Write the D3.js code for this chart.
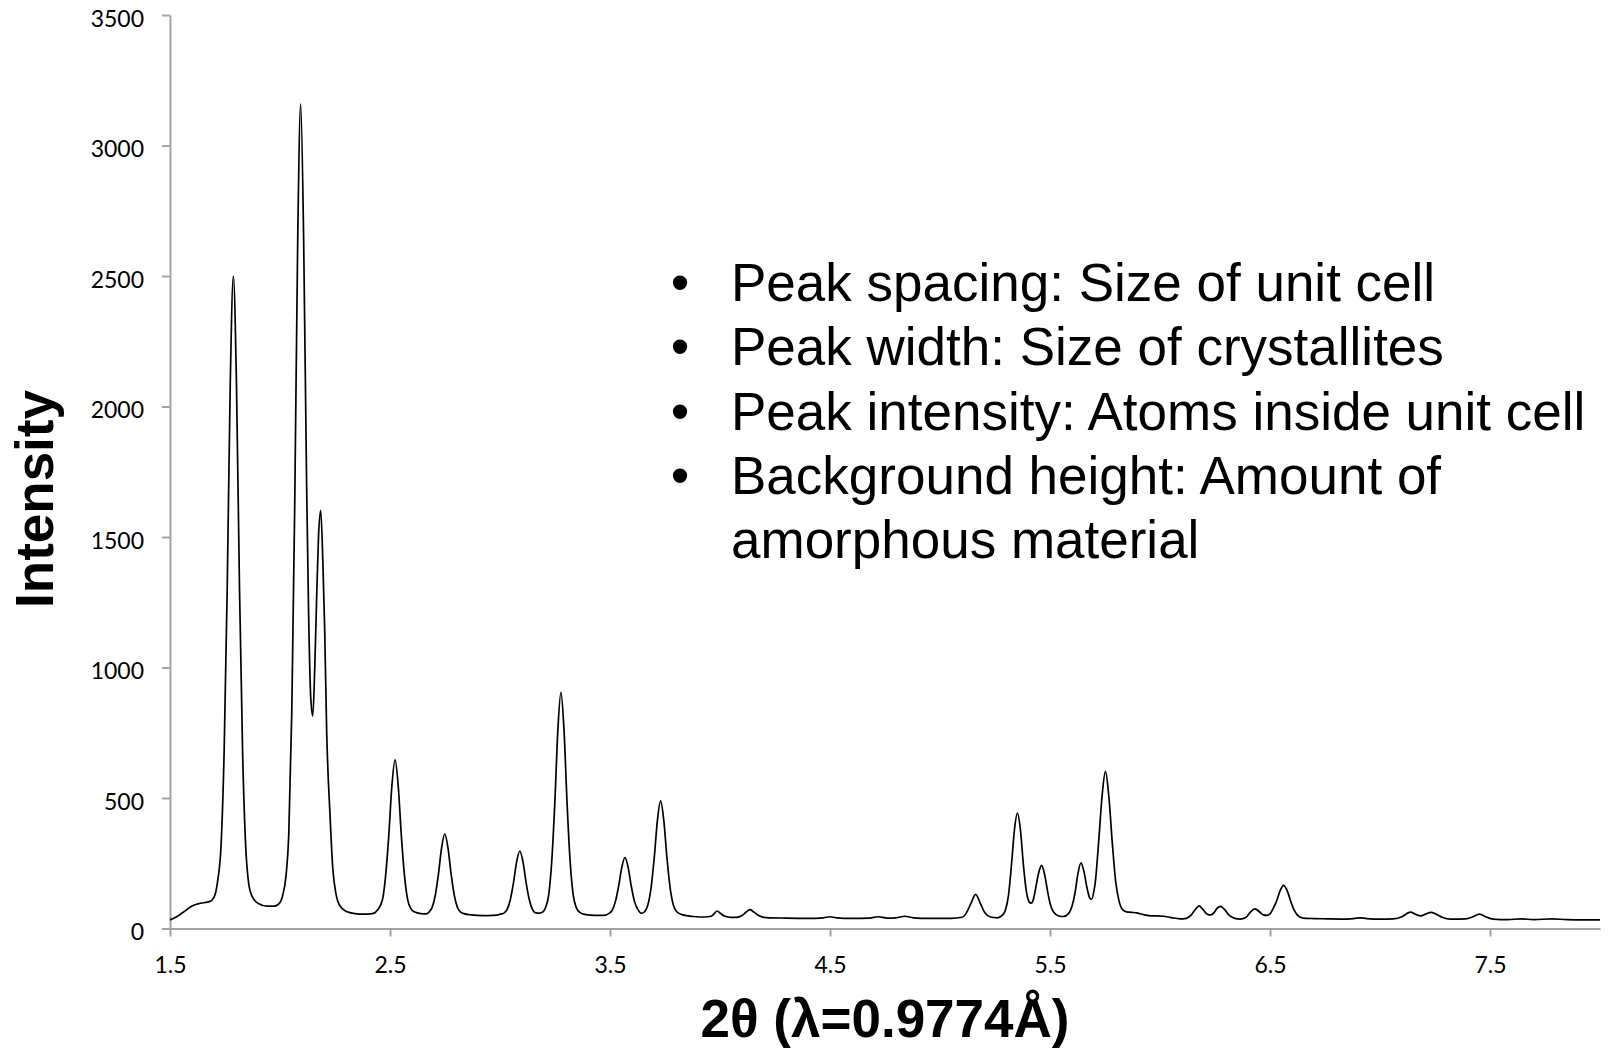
<!DOCTYPE html>
<html>
<head>
<meta charset="utf-8">
<script src="https://cdn.jsdelivr.net/npm/d3@7"></script>
<style>
  body { margin: 0; background: #fff; }
  svg { display: block; }
</style>
</head>
<body>
<div id="chart"></div>
<script>
// Chart size and plot box
const width = 1610;
const height = 1049;
const plotLeft = 170, plotRight = 1600, plotTop = 15, plotBottom = 928.5;

// Tick values
const xTicks = [1.5, 2.5, 3.5, 4.5, 5.5, 6.5, 7.5];
const yTicks = [0, 500, 1000, 1500, 2000, 2500, 3000, 3500];

// Diffraction pattern: [2theta, intensity]
const pattern = [
  [1.500, 33], [1.530, 45], [1.560, 62], [1.600, 86], [1.640, 97], [1.670, 101],
  [1.690, 108], [1.705, 130], [1.718, 190], [1.732, 316], [1.746, 676], [1.760, 1300],
  [1.774, 2092], [1.788, 2500], [1.802, 2092], [1.816, 1300], [1.830, 676], [1.844, 316],
  [1.858, 170], [1.872, 125], [1.900, 97], [1.940, 86], [1.975, 86], [2.000, 100],
  [2.013, 130], [2.027, 200], [2.040, 366], [2.0535, 827], [2.067, 1625], [2.0805, 2638],
  [2.094, 3160], [2.1075, 2638], [2.121, 1700], [2.130, 1207], [2.140, 880], [2.149, 814],
  [2.158, 1000], [2.166, 1250], [2.175, 1500], [2.185, 1602], [2.195, 1400], [2.203, 1150],
  [2.212, 760], [2.227, 441], [2.240, 230], [2.255, 130], [2.270, 90], [2.300, 66],
  [2.340, 57], [2.380, 55], [2.420, 57], [2.436, 64], [2.465, 108], [2.4795, 197],
  [2.494, 350], [2.5085, 546], [2.523, 646], [2.5375, 545], [2.552, 350], [2.5665, 197],
  [2.581, 108], [2.595, 76], [2.610, 64], [2.640, 57], [2.665, 56], [2.677, 63],
  [2.691, 80], [2.7055, 126], [2.720, 207], [2.7345, 309], [2.749, 362], [2.7635, 309],
  [2.778, 207], [2.7925, 126], [2.807, 80], [2.821, 63], [2.836, 57], [2.870, 52],
  [2.920, 49], [2.970, 50], [3.003, 55], [3.018, 59], [3.032, 72], [3.0465, 109],
  [3.061, 174], [3.0755, 255], [3.090, 297], [3.1045, 255], [3.119, 174], [3.1335, 109],
  [3.148, 72], [3.162, 60], [3.180, 59], [3.195, 64], [3.207, 80], [3.221, 127],
  [3.235, 255], [3.249, 478], [3.263, 760], [3.277, 905], [3.291, 760], [3.305, 478],
  [3.319, 255], [3.333, 127], [3.347, 80], [3.361, 63], [3.390, 53], [3.430, 50],
  [3.470, 50], [3.496, 58], [3.510, 70], [3.5245, 103], [3.539, 161], [3.5535, 234],
  [3.568, 272], [3.5825, 234], [3.597, 161], [3.6115, 103], [3.626, 74], [3.643, 58],
  [3.658, 65], [3.672, 90], [3.6865, 155], [3.701, 270], [3.7155, 414], [3.730, 489],
  [3.7445, 414], [3.759, 270], [3.7735, 155], [3.788, 90], [3.802, 65], [3.830, 52],
  [3.880, 46], [3.930, 44], [3.960, 47], [3.972, 55], [3.987, 67], [4.002, 58],
  [4.020, 48], [4.050, 43], [4.076, 43], [4.100, 50], [4.120, 64], [4.136, 72],
  [4.152, 64], [4.175, 50], [4.210, 42], [4.300, 40], [4.400, 39], [4.470, 41],
  [4.500, 45], [4.530, 41], [4.600, 39], [4.680, 40], [4.720, 45], [4.760, 40],
  [4.800, 41], [4.840, 47], [4.880, 41], [4.950, 39], [5.050, 39], [5.100, 43],
  [5.120, 60], [5.140, 95], [5.162, 131], [5.184, 95], [5.204, 60], [5.230, 44],
  [5.260, 41], [5.285, 52], [5.297, 70], [5.311, 125], [5.3245, 240], [5.338, 375],
  [5.352, 442], [5.366, 375], [5.3795, 240], [5.393, 140], [5.405, 102], [5.414, 97],
  [5.424, 110], [5.434, 150], [5.448, 212], [5.462, 242], [5.476, 205], [5.4895, 140],
  [5.503, 88], [5.517, 62], [5.540, 48], [5.561, 46], [5.585, 58], [5.600, 85],
  [5.6135, 135], [5.627, 210], [5.641, 252], [5.655, 215], [5.6685, 155], [5.680, 118],
  [5.689, 112], [5.700, 145], [5.7055, 175], [5.721, 330], [5.7365, 505], [5.752, 602],
  [5.7675, 505], [5.783, 330], [5.7985, 180], [5.814, 105], [5.830, 72], [5.848, 64],
  [5.870, 62], [5.895, 60], [5.930, 52], [5.960, 48], [5.990, 48], [6.015, 47],
  [6.050, 42], [6.090, 37], [6.120, 39], [6.140, 50], [6.160, 72], [6.178, 87],
  [6.196, 72], [6.215, 55], [6.230, 52], [6.245, 60], [6.260, 78], [6.276, 85],
  [6.294, 72], [6.315, 50], [6.340, 39], [6.365, 36], [6.390, 42], [6.410, 62],
  [6.432, 75], [6.452, 64], [6.470, 52], [6.485, 50], [6.500, 56], [6.514, 76],
  [6.530, 105], [6.546, 145], [6.562, 165], [6.578, 145], [6.594, 105], [6.610, 70],
  [6.626, 50], [6.650, 40], [6.700, 38], [6.760, 37], [6.820, 36], [6.880, 38],
  [6.910, 41], [6.940, 38], [7.000, 36], [7.060, 37], [7.100, 45], [7.120, 56],
  [7.139, 63], [7.160, 55], [7.185, 48], [7.210, 56], [7.232, 62], [7.255, 55],
  [7.285, 42], [7.320, 36], [7.390, 37], [7.420, 44], [7.452, 55], [7.480, 45],
  [7.515, 36], [7.580, 34], [7.640, 37], [7.700, 34], [7.780, 37], [7.850, 34],
  [7.930, 33], [8.000, 33]
];

// Annotation text
const bullets = [
  'Peak spacing: Size of unit cell',
  'Peak width: Size of crystallites',
  'Peak intensity: Atoms inside unit cell',
  'Background height: Amount of'
];
const bulletTail = 'amorphous material';
const xTitle = '2θ (λ=0.9774Å)';
const yTitle = 'Intensity';

// Scales
const x = d3.scaleLinear().domain([1.5, 8.0]).range([plotLeft, plotRight]);
const y = d3.scaleLinear().domain([0, 3500]).range([plotBottom, plotTop]);

const svg = d3.select('#chart')
  .append('svg')
  .attr('width', width)
  .attr('height', height);

// Axes
const axisColor = '#a3a3a3';

const yAxis = svg.append('g')
  .attr('transform', `translate(${plotLeft},0)`)
  .call(d3.axisLeft(y).tickValues(yTicks).tickFormat(d3.format('d'))
    .tickSize(8).tickSizeOuter(0).tickPadding(18));

const xAxis = svg.append('g')
  .attr('transform', `translate(0,${plotBottom})`)
  .call(d3.axisBottom(x).tickValues(xTicks).tickFormat(d3.format('.1f'))
    .tickSize(8).tickSizeOuter(0).tickPadding(20));

[yAxis, xAxis].forEach(g => {
  g.select('.domain').attr('stroke', axisColor).attr('stroke-width', 2);
  g.selectAll('.tick line').attr('stroke', axisColor).attr('stroke-width', 2);
  g.selectAll('.tick text')
    .attr('fill', '#000')
    .style('font-family', 'Lato, "Open Sans", sans-serif')
    .style('font-size', '23px');
});
yAxis.selectAll('.tick text').attr('dy', '0.48em');

// Pattern line
const line = d3.line()
  .x(d => x(d[0]))
  .y(d => y(d[1]))
  .curve(d3.curveMonotoneX);

svg.append('path')
  .datum(pattern)
  .attr('d', line)
  .attr('fill', 'none')
  .attr('stroke', '#000')
  .attr('stroke-width', 1.7)
  .attr('stroke-linejoin', 'round');

// Axis titles
svg.append('text')
  .attr('x', 885)
  .attr('y', 1037)
  .attr('text-anchor', 'middle')
  .style('font-family', '"Liberation Sans", Arial, sans-serif')
  .style('font-weight', 'bold')
  .style('font-size', '53px')
  .text(xTitle);

svg.append('text')
  .attr('transform', 'translate(53,499) rotate(-90)')
  .attr('text-anchor', 'middle')
  .style('font-family', '"Liberation Sans", Arial, sans-serif')
  .style('font-weight', 'bold')
  .style('font-size', '53px')
  .text(yTitle);

// Bullet list
const note = svg.append('g')
  .style('font-family', '"Liberation Sans", Arial, sans-serif')
  .style('font-size', '53px')
  .attr('fill', '#000');

bullets.forEach((t, i) => {
  const by = 301 + i * 64.3;
  note.append('text').attr('x', 680).attr('y', by).attr('text-anchor', 'middle').text('•');
  note.append('text').attr('x', 731).attr('y', by).text(t);
});
note.append('text').attr('x', 731).attr('y', 301 + 4 * 64.3).text(bulletTail);
</script>
</body>
</html>
